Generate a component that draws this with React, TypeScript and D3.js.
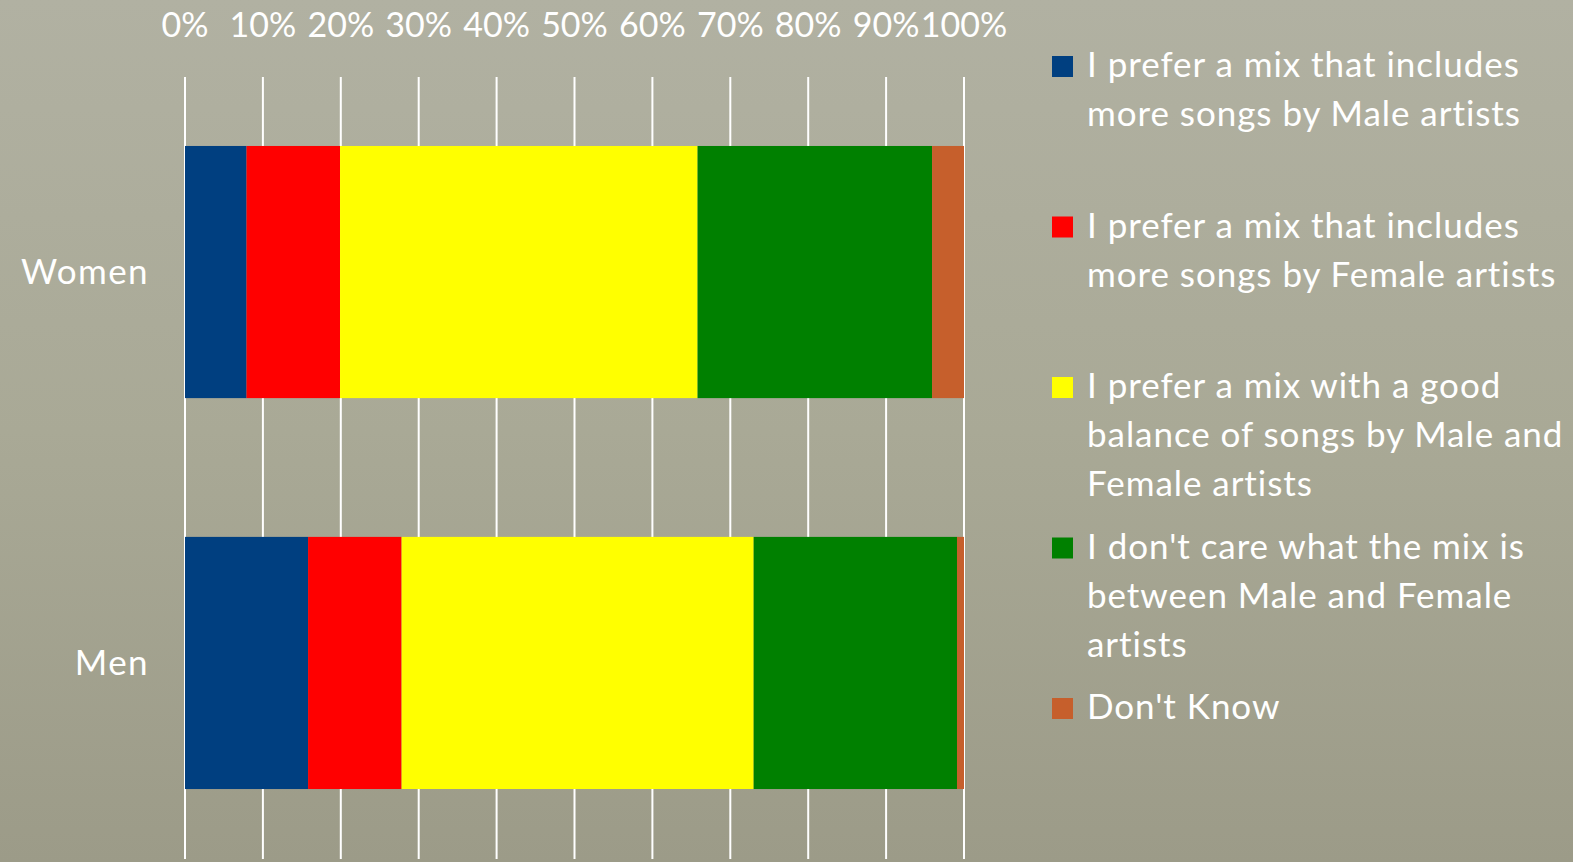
import React from "react";
import * as d3 from "d3";

const categories = ["Women", "Men"];
const seriesNames = [
  "I prefer a mix that includes more songs by Male artists",
  "I prefer a mix that includes more songs by Female artists",
  "I prefer a mix with a good balance of songs by Male and Female artists",
  "I don't care what the mix is between Male and Female artists",
  "Don't Know",
];
const legendLines = [
  ["I prefer a mix that includes", "more songs by Male artists"],
  ["I prefer a mix that includes", "more songs by Female artists"],
  ["I prefer a mix with a good", "balance of songs by Male and", "Female artists"],
  ["I don't care what the mix is", "between Male and Female", "artists"],
  ["Don't Know"],
];
const seriesColors = ["#003f80", "#ff0000", "#ffff00", "#008000", "#c65f2c"];
const womenValues = [7.9, 12.0, 45.9, 30.1, 4.1];
const menValues = [15.8, 12.0, 45.2, 26.1, 0.9];
const tickValues = [0, 10, 20, 30, 40, 50, 60, 70, 80, 90, 100];

const W = 1573;
const H = 862;
const FONT = "Lato, 'Open Sans', sans-serif";

export default function App() {
  const x = d3.scaleLinear().domain([0, 100]).range([185, 964]);
  const y = d3
    .scaleBand<string>()
    .domain(categories)
    .range([76, 859])
    .paddingInner(0.355)
    .paddingOuter(0.179);

  const rows = [womenValues, menValues];
  const stacked = rows.map((vals) => {
    let acc = 0;
    return vals.map((v) => {
      const s = acc;
      acc += v;
      return [s, acc];
    });
  });

  return (
    <svg
      width={W}
      height={H}
      style={{ position: "absolute", left: 0, top: 0, display: "block" }}
    >
      <defs>
        <linearGradient id="bg" x1="0" y1="0" x2="0" y2="1">
          <stop offset="0%" stopColor="#b1b1a2" />
          <stop offset="50%" stopColor="#a9a996" />
          <stop offset="100%" stopColor="#9c9b88" />
        </linearGradient>
      </defs>
      <rect x={0} y={0} width={W} height={H} fill="url(#bg)" />

      {tickValues.map((t) => (
        <line
          key={"g" + t}
          x1={x(t)}
          x2={x(t)}
          y1={77}
          y2={859}
          stroke="#ffffff"
          strokeWidth={2}
        />
      ))}

      {tickValues.map((t) => (
        <text
          key={"t" + t}
          x={x(t)}
          y={37}
          textAnchor="middle"
          fill="#ffffff"
          fontFamily={FONT}
          fontSize={34}
        >
          {t + "%"}
        </text>
      ))}

      {categories.map((c, i) => (
        <g key={c}>
          {stacked[i].map(([s, e], j) => (
            <rect
              key={j}
              x={x(s)}
              width={x(e) - x(s)}
              y={y(c)}
              height={y.bandwidth()}
              fill={seriesColors[j]}
            />
          ))}
          <text
            x={149}
            y={(y(c) as number) + y.bandwidth() / 2 + 12}
            textAnchor="end"
            fill="#ffffff"
            fontFamily={FONT}
            fontSize={35}
            letterSpacing={1.4}
          >
            {c}
          </text>
        </g>
      ))}

      {seriesNames.map((name, i) => {
        const base = 77 + i * 160.5;
        return (
          <g key={name}>
            <rect
              x={1052}
              y={base - 21}
              width={21}
              height={21}
              fill={seriesColors[i]}
            />
            <text
              fill="#ffffff"
              fontFamily={FONT}
              fontSize={35}
              letterSpacing={0.95}
            >
              {legendLines[i].map((ln, k) => (
                <tspan key={k} x={1087} y={base + k * 49}>
                  {ln}
                </tspan>
              ))}
            </text>
          </g>
        );
      })}
    </svg>
  );
}
